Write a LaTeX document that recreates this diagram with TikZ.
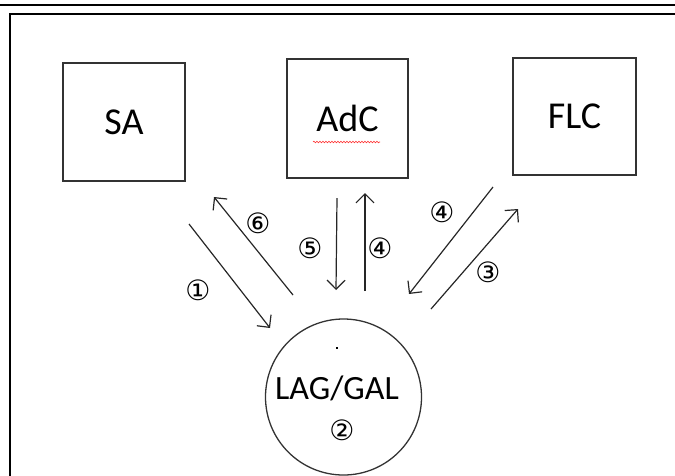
\documentclass[tikz,border=0pt]{standalone}
\usepackage{fontspec}
\setmainfont{Carlito}
\newfontfamily\circfont{DejaVu Sans}
\usetikzlibrary{arrows.meta,decorations.pathmorphing}
\begin{document}
\begin{tikzpicture}[x=1pt,y=-1pt,
  box/.style={draw=black!80,line width=1.3pt,minimum width=121pt,minimum height=118pt,inner sep=0pt,font=\fontsize{38}{40}\selectfont},
  conn/.style={draw=black!85,line width=1.2pt,-{Straight Barb[length=9pt,width=18pt,line width=1.2pt]}},
  num/.style={font=\circfont\fontsize{28}{30}\selectfont,inner sep=0pt}]
\useasboundingbox (0,0) rectangle (675,475);
% top rule and outer frame
\draw[line width=1.6pt] (0,5) -- (675,5);
\draw[line width=2.4pt,black!45] (10,490) -- (10,14) -- (690,14);
\draw[line width=1.1pt,black] (10,490) -- (10,14) -- (690,14);
% boxes
\node[box,minimum width=122pt,minimum height=118pt] (sa) at (124,122) {SA};
\node[box,minimum width=121pt,minimum height=119pt] (adc) at (347.5,118.5) {AdC};
\node[box,minimum width=123pt,minimum height=117pt] (flc) at (574.5,116.5) {FLC};
\draw[red!80,line width=0.6pt,decorate,decoration={snake,amplitude=0.8pt,segment length=3pt}] (313,142) -- (380,142);
% circle
\node[draw=black!80,line width=1.3pt,circle,minimum size=156pt,inner sep=0pt] (lag) at (343.5,397) {};
\node[font=\fontsize{34}{36}\selectfont,inner sep=0pt] (lagt) at (337,388) {LAG/GAL};
\node[num] (n2) at (342,430) {②};
\node[fill=black,inner sep=0pt,minimum size=1.5pt] (dot) at (337,348) {};
% arrow endpoints
\coordinate (a1s) at (189,224); \coordinate (a1e) at (270,328);
\coordinate (a6s) at (293,295); \coordinate (a6e) at (214,197);
\coordinate (a5s) at (337,198); \coordinate (a5e) at (336,290);
\coordinate (a4s) at (365,291); \coordinate (a4e) at (365,193);
\coordinate (b4s) at (493,187); \coordinate (b4e) at (409,294);
\coordinate (a3s) at (431,309); \coordinate (a3e) at (518,209);
\draw[conn] (a1s) -- (a1e);
\draw[conn] (a6s) -- (a6e);
\draw[conn] (a5s) -- (a5e);
\draw[conn] (a4s) -- (a4e);
\draw[conn] (b4s) -- (b4e);
\draw[conn] (a3s) -- (a3e);
% labels
\node[num] (n1) at (198,290) {①};
\node[num] (n6) at (258,223) {⑥};
\node[num] (n5) at (310,248) {⑤};
\node[num] (n4a) at (380,248) {④};
\node[num] (n4b) at (442,212) {④};
\node[num] (n3) at (488,272) {③};
\end{tikzpicture}
\end{document}
